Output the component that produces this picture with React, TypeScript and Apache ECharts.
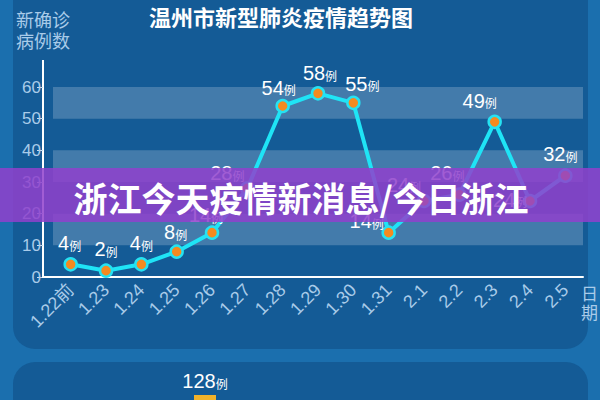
import React, { useEffect, useRef } from "react";
import * as echarts from "echarts";

const TITLE = "温州市新型肺炎疫情趋势图";
const BANNER = "浙江今天疫情新消息/今日浙江";
const Y_NAME = "新确诊\n病例数";
const X_NAME = "日\n期";
const dates = ["1.22前", "1.23", "1.24", "1.25", "1.26", "1.27", "1.28", "1.29", "1.30", "1.31", "2.1", "2.2", "2.3", "2.4", "2.5"];
const newCases = [4, 2, 4, 8, 14, 28, 54, 58, 55, 14, 24, 26, 49, 24, 32];
const yTicks = [0, 10, 20, 30, 40, 50, 60];
const bottomCategories = ["累计"];
const bottomValues = [128];

// label nudges (style only) so labels sit like in the reference
const labelNudge: [number, number][] = [
  [-1, 0], [0, 0], [0, 0], [-1, 2], [-6, 4], [-20, 6], [-4, 3], [2, 1], [9, 2],
  [-22, 10], [-20, 5], [-12, 0], [-15, 0], [-20, 20], [-5, 0],
];

const AXIS_TXT = "#a9cbe9";
const FONT = "Liberation Sans, Noto Sans CJK SC, sans-serif";

export default function App() {
  const ref = useRef<HTMLDivElement>(null);
  useEffect(() => {
    if (!ref.current) return;
    const chart = echarts.init(ref.current, undefined, { renderer: "svg" });
    const rich = {
      n: { fontSize: 20, color: "#ffffff", fontFamily: FONT },
      u: { fontSize: 12, color: "#ffffff", fontFamily: "Noto Sans CJK SC", verticalAlign: "bottom", padding: [0, 0, 2, 0] },
    };
    chart.setOption({
      animation: false,
      backgroundColor: "#1b6fae",
      textStyle: { fontFamily: FONT },
      title: {
        text: TITLE,
        left: 144,
        top: 0,
        textStyle: { color: "#ffffff", fontSize: 22, fontWeight: "bold", fontFamily: "Noto Sans CJK SC" },
      },
      grid: [
        { left: 53, right: 17, top: 87, bottom: 123 },
        { left: 180, width: 50, top: 395, height: 300 },
      ],
      xAxis: [
        {
          type: "category",
          data: dates,
          boundaryGap: true,
          axisLine: { lineStyle: { color: "#ffffff", width: 2 } },
          axisTick: { alignWithLabel: true, length: 5, lineStyle: { color: "#c9ddf0" } },
          axisLabel: { rotate: 45, color: AXIS_TXT, fontSize: 18, margin: 10, fontFamily: FONT },
          name: X_NAME,
          nameLocation: "end",
          nameGap: -2,
          nameTextStyle: { color: AXIS_TXT, fontSize: 17, lineHeight: 19, align: "left", verticalAlign: "top", padding: [6, 0, 0, 0], fontFamily: "Noto Sans CJK SC" },
        },
        { gridIndex: 1, type: "category", data: bottomCategories, show: false },
      ],
      yAxis: [
        {
          type: "value",
          min: yTicks[0],
          max: yTicks[yTicks.length - 1],
          interval: 10,
          offset: 10,
          axisLine: { show: true, lineStyle: { color: "#ffffff", width: 2 } },
          axisTick: { show: true, length: 6, lineStyle: { color: "#c9ddf0" } },
          axisLabel: { color: AXIS_TXT, fontSize: 17, margin: 2, fontFamily: FONT },
          splitLine: { show: false },
          splitArea: { show: true, areaStyle: { color: ["rgba(0,0,0,0)", "rgba(255,255,255,0.2)"] } },
          name: Y_NAME,
          nameLocation: "end",
          nameGap: 37,
          nameTextStyle: { color: AXIS_TXT, fontSize: 18, lineHeight: 21, align: "center", verticalAlign: "bottom", fontFamily: "Noto Sans CJK SC" },
        },
        { gridIndex: 1, type: "value", min: 0, max: bottomValues[0], show: false },
      ],
      series: [
        {
          type: "line",
          data: newCases.map((v, i) => ({ value: v, label: { offset: labelNudge[i] } })),
          lineStyle: { color: "#1fe4f6", width: 4 },
          symbol: "circle",
          symbolSize: 12,
          itemStyle: { color: "#f58a1f", borderColor: "#25e2f2", borderWidth: 2.5 },
          label: { show: true, position: "top", distance: 4, formatter: "{n|{c}}{u|例}", rich },
          z: 3,
        },
        {
          type: "bar",
          xAxisIndex: 1,
          yAxisIndex: 1,
          data: bottomValues,
          barWidth: 22,
          itemStyle: { color: "#f2b32b" },
          label: { show: true, position: "top", distance: 4, formatter: "{n|{c}}{u|例}", rich },
        },
      ],
      graphic: [
        { type: "rect", z: -100, shape: { x: 13, y: -40, width: 575, height: 389, r: 22 }, style: { fill: "#145b96" } },
        { type: "rect", z: -100, shape: { x: 13, y: 362, width: 575, height: 80, r: 22 }, style: { fill: "#145b96" } },
        { type: "line", z: 5, shape: { x1: 43, y1: 60, x2: 43, y2: 87 }, style: { stroke: "#ffffff", lineWidth: 2 } },
        { type: "line", z: 5, shape: { x1: 42, y1: 277, x2: 54, y2: 277 }, style: { stroke: "#ffffff", lineWidth: 2 } },
        { type: "rect", z: 100, shape: { x: 0, y: 168, width: 600, height: 54 }, style: { fill: "rgba(145,65,205,0.85)" } },
        {
          type: "text",
          z: 101,
          x: 301,
          y: 197,
          style: {
            text: BANNER,
            fill: "#ffffff",
            fontSize: 34,
            fontWeight: "bold",
            fontFamily: "Noto Sans CJK SC",
            align: "center",
            verticalAlign: "middle",
          },
        },
      ],
    });
    return () => chart.dispose();
  }, []);
  return <div ref={ref} style={{ position: "absolute", left: 0, top: 0, width: 600, height: 400 }} />;
}
